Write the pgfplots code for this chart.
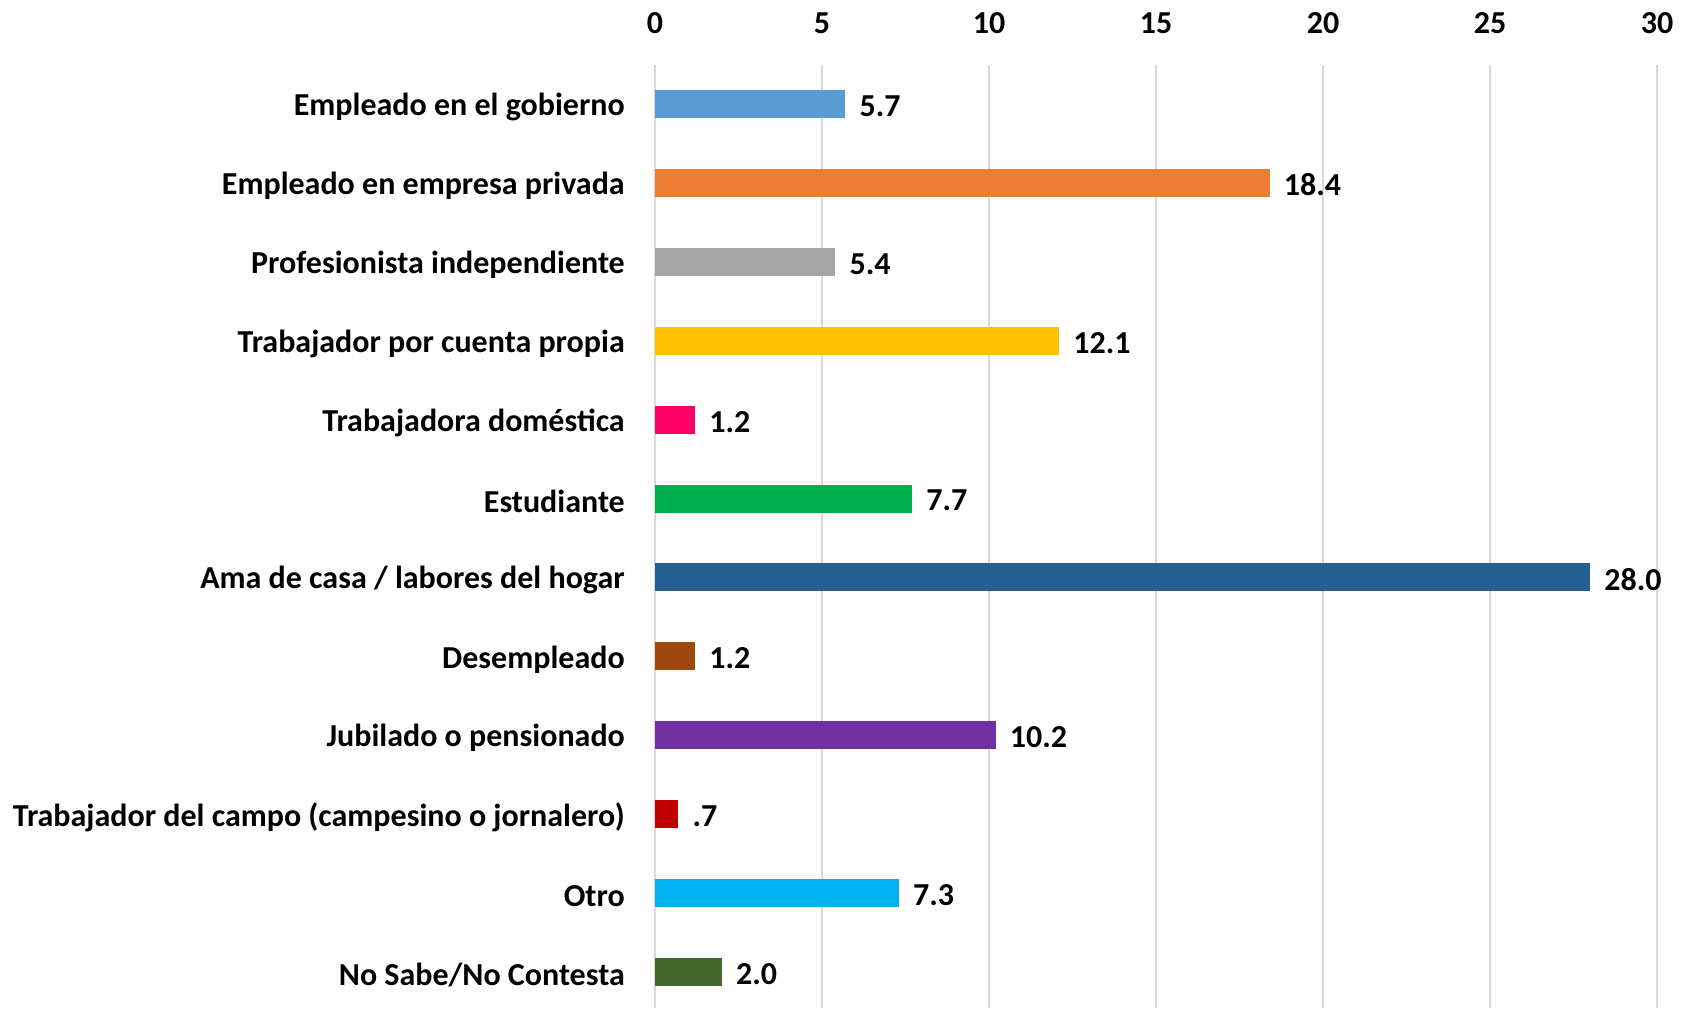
\documentclass[border=0pt]{standalone}
\usepackage{pgfplots}
\pgfplotsset{compat=1.18}
\usepackage{fontspec}
\setmainfont{Carlito}
\definecolor{c1}{HTML}{5B9BD5}
\definecolor{c2}{HTML}{ED7D31}
\definecolor{c3}{HTML}{A5A5A5}
\definecolor{c4}{HTML}{FFC000}
\definecolor{c5}{HTML}{FF0066}
\definecolor{c6}{HTML}{00B050}
\definecolor{c7}{HTML}{255E91}
\definecolor{c8}{HTML}{9E480E}
\definecolor{c9}{HTML}{7030A0}
\definecolor{c10}{HTML}{C00000}
\definecolor{c11}{HTML}{00B0F0}
\definecolor{c12}{HTML}{43682B}
\definecolor{gridc}{HTML}{D9D9D9}
\begin{document}
\begin{tikzpicture}
\begin{axis}[
 name=ax,
 xbar, bar width=14pt, bar shift=0pt,
 width=501pt, height=471.75pt, scale only axis,
 xmin=0, xmax=30, ymin=-0.5, ymax=11.456, y dir=reverse,
 xtick={0,5,...,30}, 
 axis x line*=top, axis y line*=left,
 axis line style={draw=none},
 ytick={0,...,11},
 yticklabels={Empleado en el gobierno,Empleado en empresa privada,Profesionista independiente,Trabajador por cuenta propia,Trabajadora doméstica,Estudiante,Ama de casa / labores del hogar,Desempleado,Jubilado o pensionado,Trabajador del campo (campesino o jornalero),Otro,No Sabe/No Contesta},
 major tick length=0pt,
 xmajorgrids, grid style={color=gridc, line width=0.75pt},
 tick label style={font=\bfseries\fontsize{16}{19}\selectfont},
 xticklabel style={yshift=12pt},
 yticklabel style={xshift=-11.6pt, yshift=-1.5pt},
 /pgf/number format/assume math mode=true,
 nodes near coords, point meta=explicit symbolic,
 nodes near coords style={font=\bfseries\fontsize{16}{19}\selectfont, anchor=west, xshift=3.6pt, yshift=-1pt, text=black},
 clip=false,
 every axis plot/.append style={draw=none},
]
\addplot[fill=c1] coordinates {(5.7,0) [5.7]};
\addplot[fill=c2] coordinates {(18.4,1) [18.4]};
\addplot[fill=c3] coordinates {(5.4,2) [5.4]};
\addplot[fill=c4] coordinates {(12.1,3) [12.1]};
\addplot[fill=c5] coordinates {(1.2,4) [1.2]};
\addplot[fill=c6] coordinates {(7.7,5) [7.7]};
\addplot[fill=c7] coordinates {(28.0,6) [28.0]};
\addplot[fill=c8] coordinates {(1.2,7) [1.2]};
\addplot[fill=c9] coordinates {(10.2,8) [10.2]};
\addplot[fill=c10] coordinates {(0.7,9) [.7]};
\addplot[fill=c11] coordinates {(7.3,10) [7.3]};
\addplot[fill=c12] coordinates {(2.0,11) [2.0]};
\end{axis}
\pgfresetboundingbox
\path[use as bounding box] ([shift={(-327.5pt,32.25pt)}]ax.north west) rectangle ([shift={(15pt,0pt)}]ax.south east);
\end{tikzpicture}
\end{document}
